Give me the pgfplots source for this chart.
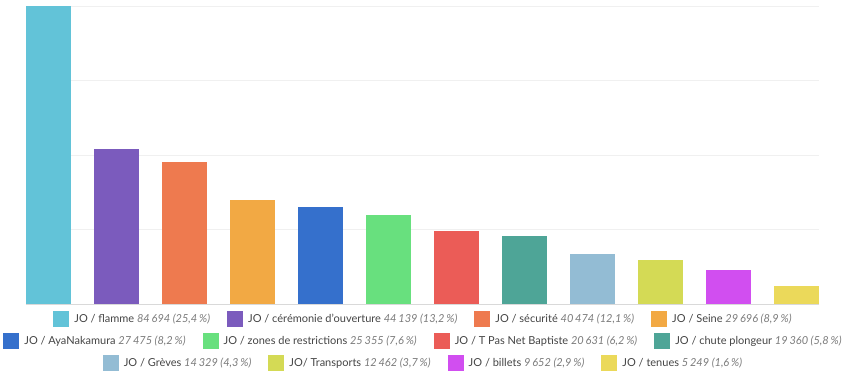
\documentclass[border=0pt]{standalone}
\usepackage{fontspec}
\setmainfont{Lato}
\usepackage{pgfplots}
\pgfplotsset{compat=1.18}
\definecolor{c1}{HTML}{62C3D8}
\definecolor{c2}{HTML}{7B5BBD}
\definecolor{c3}{HTML}{EE7A4F}
\definecolor{c4}{HTML}{F2A944}
\definecolor{c5}{HTML}{3570CC}
\definecolor{c6}{HTML}{68E07E}
\definecolor{c7}{HTML}{EB5C57}
\definecolor{c8}{HTML}{4EA597}
\definecolor{c9}{HTML}{93BCD4}
\definecolor{c10}{HTML}{D4DA55}
\definecolor{c11}{HTML}{D14EF0}
\definecolor{c12}{HTML}{EBD95A}
\definecolor{txt}{HTML}{444444}
\definecolor{val}{HTML}{7A7A7A}
\newcommand\li[3]{{\color{#1}\rule[-4pt]{16pt}{16pt}}\hspace{5pt}{\color{txt}#2}\ {\color{val}\itshape #3}}
\begin{document}
\begin{tikzpicture}[x=1pt,y=1pt]
\path[use as bounding box] (-26,-78) rectangle (824,304);
\begin{axis}[
  at={(0,0)}, anchor=south west,
  scale only axis, width=793pt, height=298pt,
  xmin=-0.331, xmax=11.331, ymin=0, ymax=84694,
  ybar, bar width=45pt, bar shift=0pt,
  axis line style={draw=none},
  xtick=\empty, ytick=\empty,
  clip=false,
]
\pgfplotsinvokeforeach{21173.5,42347,63520.5,84694}{
  \draw[black!6, line width=0.8pt] (axis cs:-0.331,#1) -- (axis cs:11.331,#1);
}
\addplot[fill=c1, draw=none] coordinates {(0,84694)};
\addplot[fill=c2, draw=none] coordinates {(1,44139)};
\addplot[fill=c3, draw=none] coordinates {(2,40474)};
\addplot[fill=c4, draw=none] coordinates {(3,29696)};
\addplot[fill=c5, draw=none] coordinates {(4,27475)};
\addplot[fill=c6, draw=none] coordinates {(5,25355)};
\addplot[fill=c7, draw=none] coordinates {(6,20631)};
\addplot[fill=c8, draw=none] coordinates {(7,19360)};
\addplot[fill=c9, draw=none] coordinates {(8,14329)};
\addplot[fill=c10, draw=none] coordinates {(9,12462)};
\addplot[fill=c11, draw=none] coordinates {(10,9652)};
\addplot[fill=c12, draw=none] coordinates {(11,5249)};
\draw[black!15, line width=0.8pt] (axis cs:-0.331,0) -- (axis cs:11.331,0);
\end{axis}
\node[inner sep=0, font=\fontsize{11}{12}\selectfont] at (396.5,-15) {%
\li{c1}{JO / flamme}{84\,694 (25,4\,\%)}\hspace{17pt}%
\li{c2}{JO / cérémonie d'ouverture}{44\,139 (13,2\,\%)}\hspace{17pt}%
\li{c3}{JO / sécurité}{40\,474 (12,1\,\%)}\hspace{17pt}%
\li{c4}{JO / Seine}{29\,696 (8,9\,\%)}};
\node[inner sep=0, font=\fontsize{11}{12}\selectfont] at (396.5,-37) {%
\li{c5}{JO / AyaNakamura}{27\,475 (8,2\,\%)}\hspace{17pt}%
\li{c6}{JO / zones de restrictions}{25\,355 (7,6\,\%)}\hspace{17pt}%
\li{c7}{JO / T Pas Net Baptiste}{20\,631 (6,2\,\%)}\hspace{17pt}%
\li{c8}{JO / chute plongeur}{19\,360 (5,8\,\%)}};
\node[inner sep=0, font=\fontsize{11}{12}\selectfont] at (396.5,-59) {%
\li{c9}{JO / Grèves}{14\,329 (4,3\,\%)}\hspace{17pt}%
\li{c10}{JO/ Transports}{12\,462 (3,7\,\%)}\hspace{17pt}%
\li{c11}{JO / billets}{9\,652 (2,9\,\%)}\hspace{17pt}%
\li{c12}{JO / tenues}{5\,249 (1,6\,\%)}};
\end{tikzpicture}
\end{document}
